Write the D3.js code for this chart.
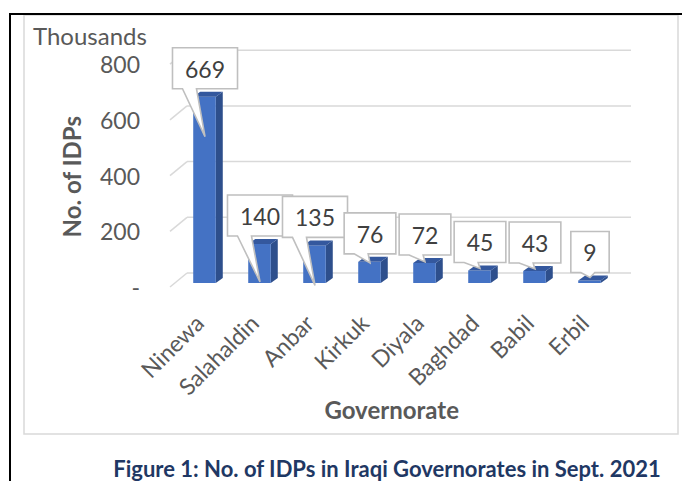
<!DOCTYPE html>
<html><head><meta charset="utf-8">
<script src="https://cdn.jsdelivr.net/npm/d3@7"></script>
<style>html,body{margin:0;padding:0;background:#fff;} svg{display:block;font-family:Lato,"Open Sans",sans-serif;}</style>
</head><body>
<svg id="chart" width="682" height="481"></svg>
<script>
// ---- data ----
const categories = ["Ninewa","Salahaldin","Anbar","Kirkuk","Diyala","Baghdad","Babil","Erbil"];
const idps = [669,140,135,76,72,45,43,9]; // thousands
const yTicks = [0,200,400,600,800];
const yTickLabels = ["-","200","400","600","800"];
const unitLabel = "Thousands";
const yTitle = "No. of IDPs";
const xTitle = "Governorate";
const caption = "Figure 1: No. of IDPs in Iraqi Governorates in Sept. 2021";
// callout pointer lengths (label layout, px)
const pointerDrop = [48,46,48,9,7,6,6,5];

// ---- layout ----
const svg = d3.select("#chart");
const gridColor = "#d9d9d9", textGray = "#595959";
const BDX = 7, BDY = -5;           // bar depth

const x = d3.scaleBand().domain(categories).range([177,617]).paddingInner(0.59).paddingOuter(0.295);
const y = d3.scaleLinear().domain([0,800]).range([283,60.2]);

// frame
svg.append("rect").attr("x",24).attr("y",15).attr("width",654).attr("height",419)
  .attr("fill","#fff").attr("stroke",gridColor).attr("stroke-width",1.5);
svg.append("path").attr("d","M10,481 V14 H682").attr("fill","none").attr("stroke","#000").attr("stroke-width",2);

// gridlines (3D back wall + side)
const grid = svg.append("g");
yTicks.forEach(t=>{
  const yf = y(t)+4, yb = y(t)-10;
  grid.append("line").attr("x1",187).attr("x2",631).attr("y1",yb).attr("y2",yb)
    .attr("stroke",gridColor).attr("stroke-width",1.5);
  grid.append("line").attr("x1",170).attr("y1",yf).attr("x2",187).attr("y2",yb)
    .attr("stroke",gridColor).attr("stroke-width",1.5);
});

// y tick labels
svg.append("g").selectAll("text").data(yTicks).join("text")
  .attr("x",140).attr("y",d=>y(d)+13).attr("text-anchor","end")
  .attr("font-size",23).attr("fill",textGray)
  .text((d,i)=>yTickLabels[i]);

svg.append("text").attr("x",33).attr("y",44.5).attr("font-size",24).attr("fill",textGray).text(unitLabel);

// bars
const data = categories.map((c,i)=>({c, v:idps[i], i}));
const bars = svg.append("g");
data.forEach(d=>{
  const x0 = x(d.c), w = x.bandwidth(), x1 = x0+w, yt = y(d.v), yb = y(0);
  bars.append("path").attr("d",`M${x1},${yt} L${x1+BDX},${yt+BDY} L${x1+BDX},${yb+BDY} L${x1},${yb} Z`).attr("fill","#2e4f8c");
  bars.append("rect").attr("x",x0).attr("y",yt).attr("width",w).attr("height",yb-yt).attr("fill","#4472c4");
  bars.append("path").attr("d",`M${x0},${yt} L${x0+BDX},${yt+BDY} L${x1+BDX},${yt+BDY} L${x1},${yt} Z`).attr("fill","#34589e");
});

// callouts
const call = svg.append("g");
data.forEach(d=>{
  const cx = x(d.c)+x.bandwidth()/2 + 0.5;
  const t = call.append("text").attr("font-size",23).attr("fill","#404040").attr("text-anchor","middle").text(d.v);
  const tw = t.node().getComputedTextLength();
  const bw = tw + 25, bh = 41;
  const bx = cx - bw/2, bby = y(d.v) - 8, bty = bby - bh;
  const tipY = bby + pointerDrop[d.i];
  const p = `M${bx},${bty} H${bx+bw} V${bby} H${bx+24} L${cx},${tipY} L${bx+10},${bby} H${bx} Z`;
  call.insert("path", () => t.node()).attr("d",p).attr("fill","#fff").attr("stroke","#bfbfbf").attr("stroke-width",1.6);
  t.attr("x",cx).attr("y",bty+30);
});

// x labels
svg.append("g").selectAll("text").data(categories).join("text")
  .attr("transform",d=>`translate(${x(d)+x.bandwidth()/2+1},325) rotate(-45)`)
  .attr("text-anchor","end").attr("font-size",23).attr("fill",textGray).text(d=>d);

// axis titles
svg.append("text").attr("transform","translate(81,176.7) rotate(-90)").attr("text-anchor","middle")
  .attr("font-size",24).attr("font-weight","bold").attr("fill",textGray).text(yTitle);
svg.append("text").attr("x",391.7).attr("y",419).attr("text-anchor","middle")
  .attr("font-size",24).attr("font-weight","bold").attr("fill",textGray).text(xTitle);

// caption
svg.append("text").attr("x",387).attr("y",477).attr("text-anchor","middle")
  .attr("font-size",22).attr("font-weight","bold").attr("fill","#1f3864").text(caption);
</script>
</body></html>
